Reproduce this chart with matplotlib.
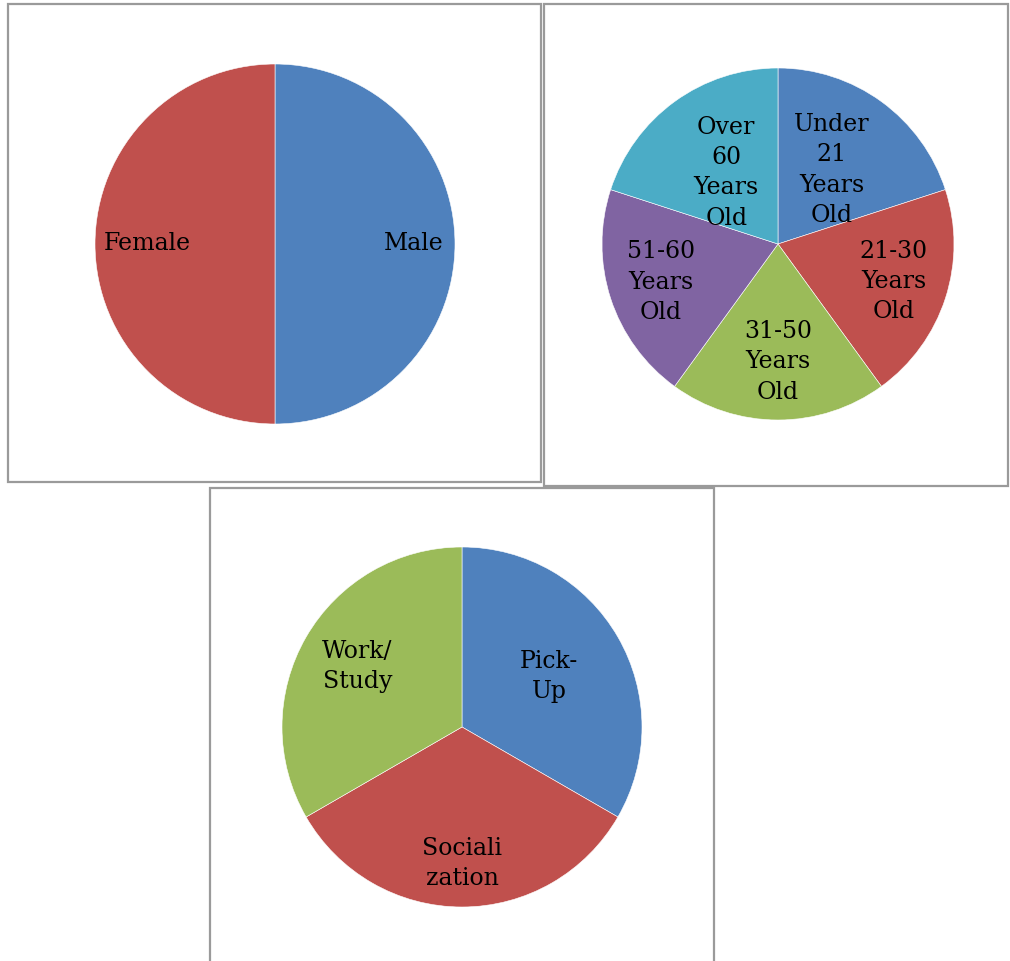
import numpy as np
import matplotlib.pyplot as plt
from matplotlib.patches import Rectangle

# Pie 1: gender
gender_labels = ["Male", "Female"]
gender_values = [50, 50]
gender_colors = ["#4F81BD", "#C0504D"]

# Pie 2: age groups
age_labels = ["Under\n21\nYears\nOld", "21-30\nYears\nOld", "31-50\nYears\nOld",
              "51-60\nYears\nOld", "Over\n60\nYears\nOld"]
age_values = [20, 20, 20, 20, 20]
age_colors = ["#4F81BD", "#C0504D", "#9BBB59", "#8064A2", "#4BACC6"]

# Pie 3: purpose
purpose_labels = ["Pick-\nUp", "Sociali\nzation", "Work/\nStudy"]
purpose_values = [1, 1, 1]
purpose_colors = ["#4F81BD", "#C0504D", "#9BBB59"]

W, H = 1010, 961
fig = plt.figure(figsize=(W / 100, H / 100), dpi=100)
plt.rcParams['font.family'] = ['DejaVu Serif']


def px_rect(x0, y0, x1, y1):
    return [x0 / W, 1 - y1 / H, (x1 - x0) / W, (y1 - y0) / H]


# panel borders
for x0, y0, x1, y1 in [(8, 4, 541, 482), (544, 4, 1008, 486), (210, 488, 714, 990)]:
    r = px_rect(x0, y0, x1, y1)
    fig.patches.append(Rectangle((r[0], r[1]), r[2], r[3], transform=fig.transFigure,
                                 fill=False, edgecolor="#9A9A9A", linewidth=1.6))


def draw_pie(cx, cy, R, values, labels, colors, dists):
    ax = fig.add_axes(px_rect(cx - R, cy - R, cx + R, cy + R))
    wedges, _ = ax.pie(values, colors=colors, startangle=90, counterclock=False,
                       radius=1, wedgeprops=dict(edgecolor="white", linewidth=0.4))
    for w, lab, d in zip(wedges, labels, dists):
        th = np.deg2rad((w.theta1 + w.theta2) / 2)
        ax.text(d * np.cos(th), d * np.sin(th), lab, ha="center", va="center",
                fontsize=17, linespacing=1.4, color="black")
    ax.set_xlim(-1, 1)
    ax.set_ylim(-1, 1)
    ax.set_aspect("equal")
    ax.axis("off")


draw_pie(275, 244, 180, gender_values, gender_labels, gender_colors, [0.77, 0.71])
draw_pie(778, 244, 176, age_values, age_labels, age_colors, [0.52, 0.69, 0.67, 0.70, 0.50])
draw_pie(462, 727, 180, purpose_values, purpose_labels, purpose_colors, [0.56, 0.76, 0.67])

fig.savefig("out.png", dpi=100)
